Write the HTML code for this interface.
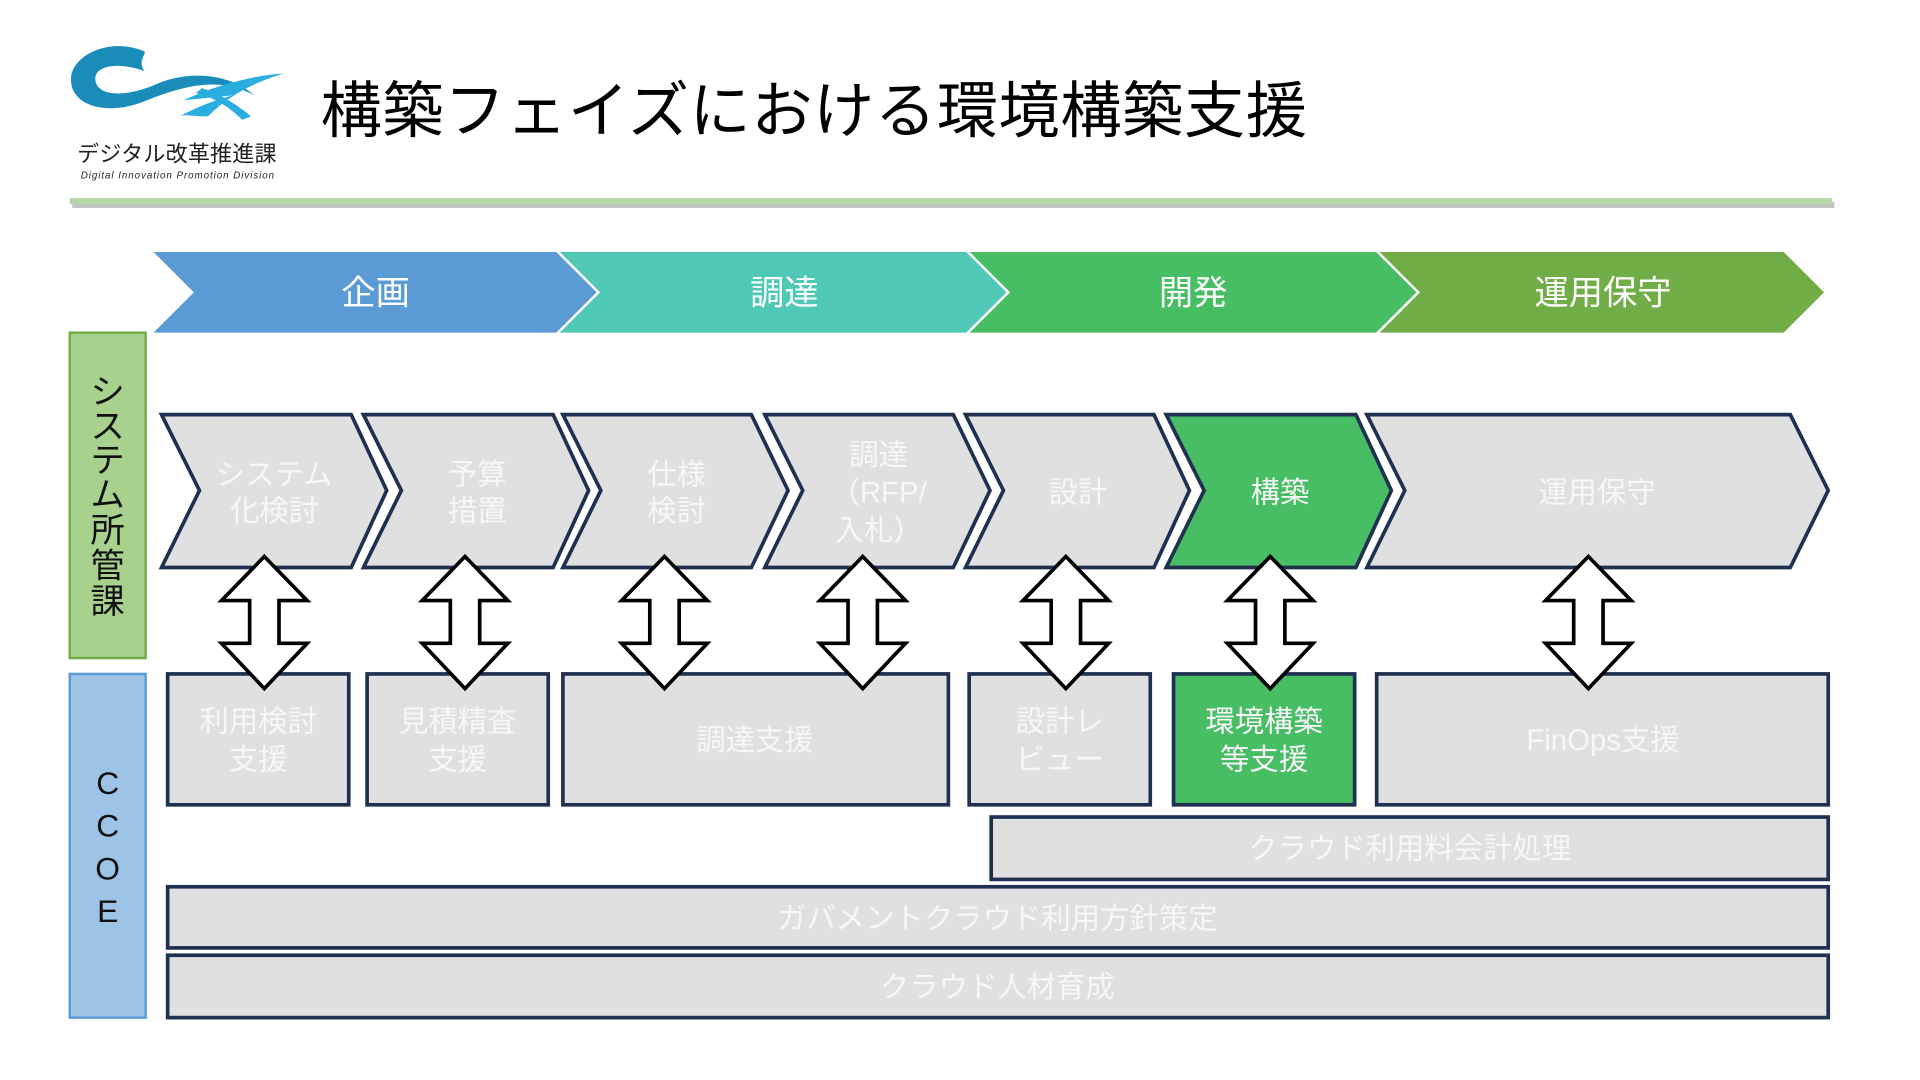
<!DOCTYPE html>
<html><head><meta charset="utf-8"><style>
html,body{margin:0;padding:0;background:#fff;width:1920px;height:1080px;overflow:hidden}
svg{display:block}
text{font-family:"Liberation Sans","Noto Sans CJK JP",sans-serif}
</style></head><body>
<svg width="1920" height="1080" viewBox="0 0 1569 883" preserveAspectRatio="none" xmlns="http://www.w3.org/2000/svg">
<!-- logo -->
<path d="M118 42 C90 30 58 45 58 65 C58 88 90 95 120 82 C150 70 180 62 208 78 C185 58 150 58 125 70 C100 80 80 78 78 66 C76 54 95 50 118 58 C112 50 120 44 118 42Z" fill="#1a8cba"/>
<path d="M150 82 C175 70 205 62 232 60 C205 68 185 80 170 95 C160 96 150 92 145 96 C160 88 175 82 190 78 Z" fill="#2aaee0"/>
<path d="M165 72 C178 76 192 84 205 95 L198 98 C188 88 176 80 160 76Z" fill="#2aaee0"/>
<text x="63" y="132" font-size="18" fill="#222" textLength="163">デジタル改革推進課</text>
<text x="66" y="146" font-size="8" font-style="italic" fill="#222" textLength="158">Digital Innovation Promotion Division</text>
<!-- title -->
<text x="262" y="108" font-size="50" fill="#000" textLength="806">構築フェイズにおける環境構築支援</text>
<!-- line -->
<rect x="59" y="165" width="1440" height="5" fill="#999" opacity="0.6"/>
<rect x="57" y="162" width="1440" height="5" fill="#b5d6a7"/>
<!-- phase banner -->
<g stroke="#fff" stroke-width="2">
<polygon points="123,205 455,205 489,239 455,273 123,273 157,239" fill="#5b9bd5"/>
<polygon points="455,205 790,205 824,239 790,273 455,273 489,239" fill="#4fc9b5"/>
<polygon points="790,205 1125,205 1159,239 1125,273 790,273 824,239" fill="#47bd64"/>
<polygon points="1125,205 1458,205 1492,239 1458,273 1125,273 1159,239" fill="#70ad47"/>
</g>
<g font-size="28" fill="#fff" text-anchor="middle">
<text x="307" y="249">企画</text><text x="641" y="249">調達</text><text x="975" y="249">開発</text><text x="1310" y="249">運用保守</text>
</g>
<!-- left labels -->
<rect x="57" y="272" width="62" height="266" fill="#a9d18e" stroke="#70ad47" stroke-width="2"/>
<g font-size="28" fill="#111" text-anchor="middle">
<text x="88" y="330">シ</text><text x="88" y="358">ス</text><text x="88" y="386">テ</text><text x="88" y="414">ム</text><text x="88" y="443">所</text><text x="88" y="472">管</text><text x="88" y="501">課</text>
</g>
<rect x="57" y="551" width="62" height="281" fill="#9dc3e6" stroke="#5b9bd5" stroke-width="2"/>
<g font-size="26" fill="#111" text-anchor="middle">
<text x="88" y="649">C</text><text x="88" y="684">C</text><text x="88" y="719">O</text><text x="88" y="754">E</text>
</g>
<!-- process chevrons -->
<g stroke="#1f3050" stroke-width="3" stroke-linejoin="miter">
<polygon points="132,339 287,339 316,401 287,464 132,464 163,401" fill="#e0e0e0"/>
<polygon points="297,339 452,339 481,401 452,464 297,464 328,401" fill="#e0e0e0"/>
<polygon points="460,339 614,339 644,401 614,464 460,464 491,401" fill="#e0e0e0"/>
<polygon points="625,339 779,339 809,401 779,464 625,464 656,401" fill="#e0e0e0"/>
<polygon points="789,339 943,339 972,401 943,464 789,464 820,401" fill="#e0e0e0"/>
<polygon points="953,339 1108,339 1137,401 1108,464 953,464 984,401" fill="#47bd64"/>
<polygon points="1117,339 1463,339 1494,401 1463,464 1117,464 1148,401" fill="#e0e0e0"/>
</g>
<g font-size="24" fill="#f7f7f7" text-anchor="middle">
<text x="224" y="396">システム</text><text x="224" y="426">化検討</text>
<text x="390" y="396">予算</text><text x="390" y="426">措置</text>
<text x="553" y="396">仕様</text><text x="553" y="426">検討</text>
<text x="718" y="380">調達</text><text x="718" y="411">（RFP/</text><text x="718" y="442">入札）</text>
<text x="881" y="411">設計</text>
<text x="1046" y="411">構築</text>
<text x="1305" y="411">運用保守</text>
</g>
<!-- bottom boxes -->
<g stroke="#1f3050" stroke-width="3" fill="#e0e0e0">
<rect x="137" y="551" width="148" height="107"/>
<rect x="300" y="551" width="148" height="107"/>
<rect x="460" y="551" width="315" height="107"/>
<rect x="792" y="551" width="148" height="107"/>
<rect x="959" y="551" width="148" height="107" fill="#47bd64"/>
<rect x="1125" y="551" width="369" height="107"/>
<rect x="810" y="668" width="684" height="51"/>
<rect x="137" y="725" width="1357" height="50"/>
<rect x="137" y="781" width="1357" height="51"/>
</g>
<g font-size="24" fill="#f7f7f7" text-anchor="middle">
<text x="211" y="598">利用検討</text><text x="211" y="629">支援</text>
<text x="374" y="598">見積精査</text><text x="374" y="629">支援</text>
<text x="617" y="613">調達支援</text>
<text x="866" y="598">設計レ</text><text x="866" y="629">ビュー</text>
<text x="1033" y="598">環境構築</text><text x="1033" y="629">等支援</text>
<text x="1310" y="613">FinOps支援</text>
<text x="1152" y="702">クラウド利用料会計処理</text>
<text x="815" y="759">ガバメントクラウド利用方針策定</text>
<text x="815" y="815">クラウド人材育成</text>
</g>
<!-- double arrows -->
<g fill="#fff" stroke="#000" stroke-width="3" stroke-linejoin="miter">
<polygon id="da" points="0,455 35,491 12,491 12,526 35,526 0,563 -35,526 -12,526 -12,491 -35,491" transform="translate(216,0)"/>
<use href="#da" transform="translate(164,0)"/>
<use href="#da" transform="translate(327,0)"/>
<use href="#da" transform="translate(489,0)"/>
<use href="#da" transform="translate(655,0)"/>
<use href="#da" transform="translate(822,0)"/>
<use href="#da" transform="translate(1082,0)"/>
</g>
</svg>
</body></html>
